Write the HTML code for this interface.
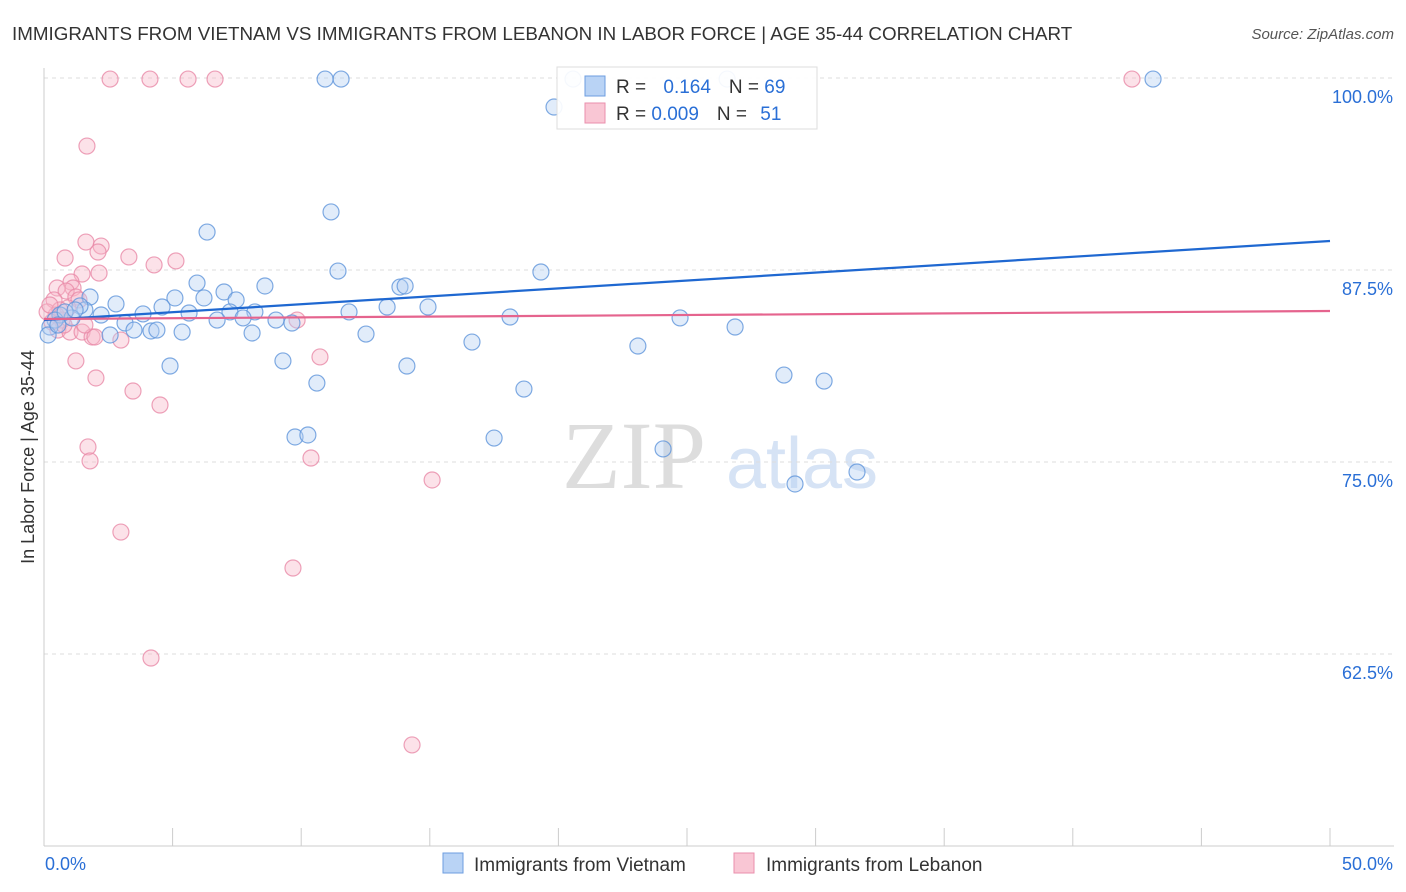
<!DOCTYPE html>
<html><head><meta charset="utf-8">
<style>
body{margin:0;background:#fff;font-family:"Liberation Sans",sans-serif;}
#wrap{position:relative;width:1406px;height:892px;overflow:hidden;}
</style></head>
<body>
<div id="wrap">
<svg id="chart" width="1406" height="892">
<text x="12" y="40" font-size="18.8" fill="#333">IMMIGRANTS FROM VIETNAM VS IMMIGRANTS FROM LEBANON IN LABOR FORCE | AGE 35-44 CORRELATION CHART</text>
<text x="1394" y="39" font-size="15" fill="#555" font-style="italic" text-anchor="end">Source: ZipAtlas.com</text>
<text x="634" y="488" font-size="96" fill="#ddd" font-family="Liberation Serif" text-anchor="middle">ZIP</text>
<text x="802" y="488" font-size="72" fill="#d6e3f5" text-anchor="middle">atlas</text>
<g id="grid"></g>
<g id="axes"></g>
<g id="pts"></g>
<g id="trend"></g>
<text transform="translate(34,457) rotate(-90)" font-size="18" fill="#333" text-anchor="middle">In Labor Force | Age 35-44</text>
<g>
<rect x="557" y="67" width="260" height="62" fill="#fff" fill-opacity="0.92" stroke="#ddd"/>
<rect x="585" y="76" width="20" height="20" fill="#b9d3f5" stroke="#6d9ee0"/>
<rect x="585" y="103" width="20" height="20" fill="#f9c6d4" stroke="#ea8fac"/>
<text x="616" y="93" font-size="19" fill="#333">R = <tspan fill="#2a6fd6" dx="12">0.164</tspan><tspan dx="18" fill="#333">N = </tspan><tspan fill="#2a6fd6">69</tspan></text>
<text x="616" y="120" font-size="19" fill="#333">R = <tspan fill="#2a6fd6">0.009</tspan><tspan dx="18" fill="#333">N = </tspan><tspan fill="#2a6fd6" dx="8">51</tspan></text>
</g>
<g>
<rect x="443" y="853" width="20" height="20" fill="#b9d3f5" stroke="#6d9ee0"/>
<text x="474" y="871" font-size="19" fill="#333">Immigrants from Vietnam</text>
<rect x="734" y="853" width="20" height="20" fill="#f9c6d4" stroke="#ea8fac"/>
<text x="766" y="871" font-size="19" fill="#333">Immigrants from Lebanon</text>
</g>
</svg>
</div>
<script>
const blueX=[10.93,11.55,20.57,26.56,43.12,19.83,11.16,6.34,11.43,19.32,5.95,8.59,13.84,14.04,7.00,5.09,6.22,7.47,1.79,2.80,4.59,5.64,7.23,8.20,3.85,2.22,1.59,1.40,13.34,14.93,11.86,18.12,24.73,6.73,7.74,9.02,9.64,3.15,3.50,4.16,4.39,5.37,8.09,2.57,12.52,26.87,16.64,23.09,9.29,4.90,14.11,10.61,28.77,30.33,18.66,9.76,10.26,17.50,24.07,31.61,29.20,0.62,0.43,0.23,0.16,1.09,0.82,0.54,1.21];
const blueY=[99.93,99.93,99.93,99.93,99.93,98.11,91.28,89.97,87.43,87.37,86.65,86.46,86.39,86.46,86.07,85.68,85.68,85.55,85.74,85.29,85.09,84.70,84.77,84.77,84.64,84.57,84.90,85.16,85.09,85.09,84.77,84.44,84.38,84.24,84.38,84.24,84.05,84.05,83.59,83.53,83.59,83.46,83.40,83.27,83.33,83.79,82.81,82.55,81.58,81.25,81.25,80.14,80.66,80.27,79.75,76.63,76.76,76.56,75.85,74.35,73.57,84.57,84.24,83.79,83.27,84.38,84.77,83.92,84.90];
const pinkX=[2.57,4.12,5.60,6.65,42.30,1.67,1.63,2.22,2.10,3.30,0.82,4.28,5.13,1.48,2.14,1.05,1.13,0.51,0.86,1.24,0.39,1.36,0.93,0.47,0.70,0.31,0.12,0.54,1.01,1.48,1.87,2.99,1.98,9.84,1.24,10.73,2.02,3.46,4.51,1.71,1.79,10.38,15.09,2.99,9.68,4.16,14.31,0.62,0.23,1.59,0.78];
const pinkY=[99.93,99.93,99.93,99.93,99.93,95.57,89.32,89.06,88.67,88.35,88.28,87.83,88.09,87.24,87.30,86.72,86.33,86.33,86.13,85.74,85.55,85.55,85.03,84.57,84.24,84.11,84.77,83.59,83.46,83.46,83.14,82.94,83.14,84.24,81.58,81.84,80.47,79.62,78.71,75.98,75.07,75.26,73.83,70.44,68.10,62.24,56.58,84.90,85.22,83.92,83.92];
const trendX=[0,50];
const blueTrendY=[84.24,89.39];
const pinkTrendY=[84.31,84.83];
const yTicks=[100,87.5,75,62.5];
const yTickLabels=["100.0%","87.5%","75.0%","62.5%"];
const xTickLabels=["0.0%","50.0%"];

const NS="http://www.w3.org/2000/svg";
const X0=44,X1=1330,YT=78,YB=846;
const sx=v=>X0+(v/50)*(X1-X0);
const sy=v=>YB-((v-50)/50)*(YB-YT);
function mk(tag,attrs,parent){const e=document.createElementNS(NS,tag);for(const k in attrs)e.setAttribute(k,attrs[k]);parent.appendChild(e);return e;}
const grid=document.getElementById('grid'),axes=document.getElementById('axes'),pts=document.getElementById('pts'),trend=document.getElementById('trend');
yTicks.forEach((t,i)=>{
  const l=mk('line',{x1:X0,x2:1394,y1:sy(t),y2:sy(t),stroke:'#ddd','stroke-dasharray':'4,4'},grid);
  
  
  const tx=mk('text',{x:1393,y:sy(t)+25,'font-size':18,fill:'#2a6fd6','text-anchor':'end'},axes);
  tx.textContent=yTickLabels[i];
  
  
});
const ya=mk('line',{x1:X0,x2:X0,y1:68,y2:YB,stroke:'#ccc'},axes);


const xa=mk('line',{x1:X0,x2:1394,y1:YB,y2:YB,stroke:'#ccc'},axes);


for(let i=0;i<=10;i++){
  const t=mk('line',{x1:sx(i*5),x2:sx(i*5),y1:828,y2:YB,stroke:'#ccc'},axes);
  
  
}
[[0,'start',45],[50,'end',1393]].forEach((d,i)=>{
  const tx=mk('text',{x:d[2],y:870,'font-size':18,fill:'#2a6fd6','text-anchor':d[1]},axes);
  tx.textContent=xTickLabels[i];
  
  
});
function drawPts(xs,ys,fill,stroke,name){
  xs.forEach((x,i)=>{
    const c=mk('circle',{cx:sx(x),cy:sy(ys[i]),r:8,fill:fill,'fill-opacity':0.4,stroke:stroke,'stroke-opacity':0.8,'stroke-width':1.2},pts);
    
    
  });
}
drawPts(pinkX,pinkY,'#f7b6c8','#e88aa8','lebanon-point');
drawPts(blueX,blueY,'#b5cff2','#5f95db','vietnam-point');
const bl=mk('line',{x1:sx(trendX[0]),x2:sx(trendX[1]),y1:sy(blueTrendY[0]),y2:sy(blueTrendY[1]),stroke:'#1f68d1','stroke-width':2.2},trend);


const pl=mk('line',{x1:sx(trendX[0]),x2:sx(trendX[1]),y1:sy(pinkTrendY[0]),y2:sy(pinkTrendY[1]),stroke:'#e5648e','stroke-width':2.2},trend);


</script>
</body></html>
